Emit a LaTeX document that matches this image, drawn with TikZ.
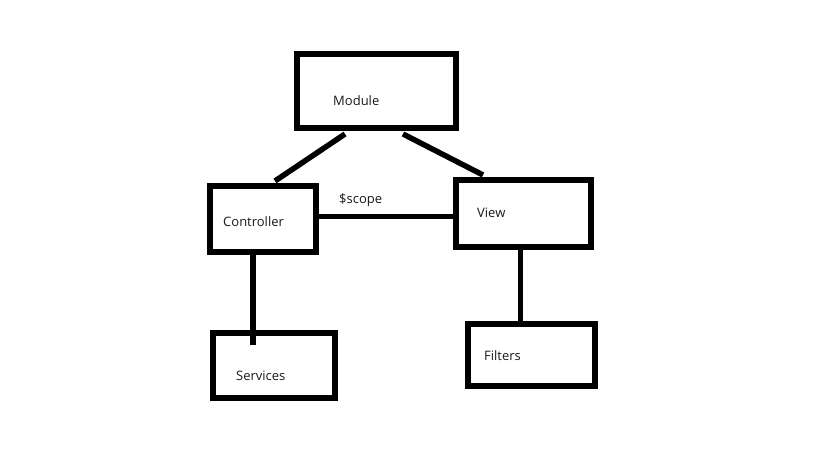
\documentclass[tikz,border=0pt]{standalone}
\usepackage{fontspec}
\setmainfont{Open Sans}
\usetikzlibrary{calc}
\begin{document}
\begin{tikzpicture}[
    x=1pt,
    y=-1pt,
    box/.style={
      draw,
      line width=6pt,
      inner sep=0pt
    },
    lbl/.style={
      anchor=west,
      inner sep=0pt,
      text=black!90,
      font=\fontsize{13}{15}\selectfont
    },
    link/.style={
      line width=5.5pt
    }
  ]
    \useasboundingbox (0, 0) rectangle (819, 460);

    \node[box, minimum width=159, minimum height=73.5] (module) at (376.5, 91.25) {};
    \node[box, minimum width=106.5, minimum height=66] (controller) at (262.75, 219) {};
    \node[box, minimum width=135, minimum height=67] (view) at (523.5, 213.5) {};
    \node[box, minimum width=121.5, minimum height=65] (services) at (273.75, 365.5) {};
    \node[box, minimum width=126.5, minimum height=62] (filters) at (531.25, 355) {};

    \node[lbl] (moduletxt) at (333, 101) {Module};
    \node[lbl] (controllertxt) at (223, 222) {Controller};
    \node[lbl] (viewtxt) at (477, 212.5) {View};
    \node[lbl] (servicestxt) at (236, 376) {Services};
    \node[lbl] (filterstxt) at (484, 356) {Filters};
    \node[lbl] (scopetxt) at (339, 200) {\$scope};

    \coordinate (scopeend) at ($(view.west) + (3, 3)$);
    \coordinate (servicesend) at ($(services.north) + (-20.75, 15)$);
    \coordinate (filtersend) at ($(filters.north) + (-10.75, 1)$);

    \draw[link] ($(module.south) + (-31.5, 3)$) to ($(controller.north) + (12.25, -2)$);
    \draw[link] ($(module.south) + (26.5, 3)$) to ($(view.north) + (-40.5, -2)$);
    \draw[link, line cap=round] (controller.east |- scopeend) to (scopeend);
    \draw[link] (controller.south -| servicesend) to (servicesend);
    \draw[link] (view.south -| filtersend) to (filtersend);
  \end{tikzpicture}
\end{document}
